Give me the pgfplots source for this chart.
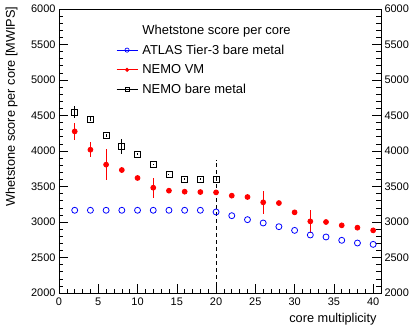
\documentclass[border=0pt]{standalone}
\usepackage{fontspec}
\setmainfont{Liberation Sans}
\usepackage{pgfplots}
\usepackage{pgfplotstable}
\pgfplotsset{compat=1.18}

\pgfplotstableread{
x y
2 3165
4 3165
6 3165
8 3165
10 3165
12 3165
14 3165
16 3165
18 3165
20 3141
22 3089
24 3033
26 2986
28 2934
30 2882
32 2817
34 2789
36 2742
38 2704
40 2685
}\atlas

\pgfplotstableread{
x y e
2 4276 115
4 4018 105
6 3808 215
8 3732 40
10 3620 35
12 3483 140
14 3441 35
16 3427 15
18 3422 10
20 3417 15
22 3371 30
24 3352 15
26 3277 160
28 3267 10
30 3136 35
32 3009 160
34 3000 10
36 2953 10
38 2920 10
40 2882 10
}\nemovm

\pgfplotstableread{
x y e
2 4547 85
4 4448 30
6 4215 20
8 4065 105
10 3958 15
12 3812 10
14 3671 10
16 3606 10
18 3606 10
20 3606 25
}\nemobm

\definecolor{rootblue}{RGB}{0,0,255}
\definecolor{rootred}{RGB}{255,0,0}

\begin{document}
\begin{tikzpicture}
\pgfplotsset{
  lgimg/.style={legend image code/.code={
    \draw[##1,sharp plot,line width=0.7pt,mark repeat=2,mark phase=2,mark options={scale=0.7}] plot coordinates {(0bp,0bp) (10.5bp,0bp) (21bp,0bp)};}},
}
\begin{axis}[
  scale only axis, width=322bp, height=284bp,
  xmin=0, xmax=41, ymin=2000, ymax=6000,
  xtick={0,5,...,40}, ytick={2000,2500,...,6000},
  minor x tick num=4, minor y tick num=4,
  tick align=inside,
  major tick length=9bp, minor tick length=4.5bp,
  xtick pos=bottom, ytick pos=both, yticklabel pos=left,
  tick style={black, line width=0.6pt},
  axis line style={black, line width=0.8pt},
  /pgf/number format/1000 sep={},
  /pgf/number format/assume math mode=true,
  tick label style={font=\fontsize{11}{13}\selectfont},
  xticklabel style={yshift=-1bp},
  label style={font=\fontsize{12.8}{14}\selectfont},
  xlabel={core multiplicity},
  xlabel style={at={(rel axis cs:0.997,-0.058)}, anchor=north east},
  ylabel={Whetstone score per core [MWIPS]},
  ylabel style={at={(rel axis cs:-0.118,1.021)}, anchor=south east},
  legend style={draw=none, fill=none, at={(rel axis cs:0.177,0.952)}, anchor=north west,
    font=\fontsize{13}{14}\selectfont, row sep=5bp, column sep=2.5bp, inner sep=0pt},
  legend cell align=left,
]
\coordinate (sw) at (rel axis cs:0,0);
\coordinate (ne) at (rel axis cs:1,1);
\addlegendimage{empty legend}
\addlegendentry{Whetstone score per core}

\addplot[forget plot, black, line width=0.9pt, dash pattern=on 4bp off 3bp] coordinates {(20,2000) (20,3880)};

\addplot[rootblue, only marks, mark=o, mark size=3bp, line width=0.8pt, lgimg] table[x=x,y=y] {\atlas};
\addlegendentry{ATLAS Tier-3 bare metal}

\addplot[rootred, only marks, mark=*, mark size=2.4bp, line width=0.9pt, lgimg,
  error bars/.cd, y dir=both, y explicit, error mark=none,
  error bar style={rootred, line width=1pt}] table[x=x,y=y,y error=e] {\nemovm};
\addlegendentry{NEMO VM}

\addplot[black, only marks, mark=square, mark size=3bp, line width=0.8pt, lgimg,
  error bars/.cd, y dir=both, y explicit, error mark=none,
  error bar style={black, line width=1pt}] table[x=x,y=y,y error=e] {\nemobm};
\addlegendentry{NEMO bare metal}
\end{axis}
\begin{axis}[
  scale only axis, width=322bp, height=284bp,
  xmin=0, xmax=41, ymin=2000, ymax=6000,
  ytick={2000,2500,...,6000},
  hide x axis, axis y line*=right, axis line style={draw=none},
  major tick length=0pt, minor tick length=0pt,
  yticklabel pos=right,
  /pgf/number format/1000 sep={},
  /pgf/number format/assume math mode=true,
  tick label style={font=\fontsize{11}{13}\selectfont},
]
\end{axis}
\pgfresetboundingbox
\path[use as bounding box] ([shift={(-59bp,-32bp)}]sw) rectangle ([shift={(30bp,9bp)}]ne);
\end{tikzpicture}
\end{document}
